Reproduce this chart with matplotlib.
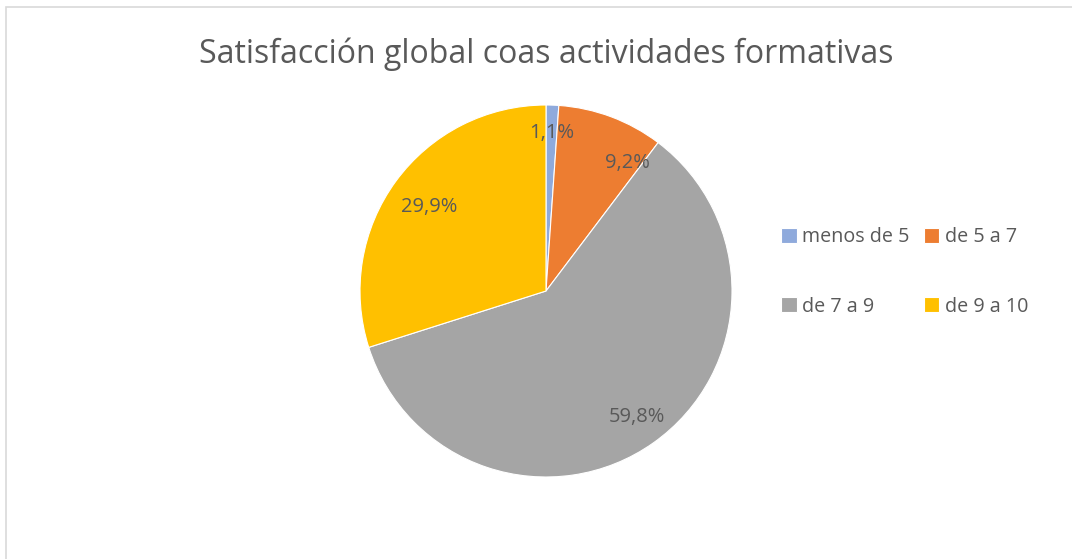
import matplotlib.pyplot as plt
from matplotlib.patches import Rectangle

categories = ['menos de 5', 'de 5 a 7', 'de 7 a 9', 'de 9 a 10']
values = [1.1, 9.2, 59.8, 29.9]
colors = ['#8FAADC', '#ED7D31', '#A5A5A5', '#FFC000']
title = 'Satisfacción global coas actividades formativas'

# where Excel put the data labels (in pie-radius units)
label_pos = [(0.03, 0.85), (0.44, 0.69), (0.49, -0.68), (-0.63, 0.45)]

plt.rcParams['font.family'] = ['Open Sans', 'DejaVu Sans']
TEXT_COLOR = '#595959'

fig = plt.figure(figsize=(10.72, 5.59), dpi=100)
fig.patches.append(Rectangle((6 / 1072, -0.1), 1.2, (559 - 7) / 559 + 0.1,
                             transform=fig.transFigure, fill=False,
                             edgecolor='#D9D9D9', linewidth=1.2))

ax = fig.add_axes([360 / 1072, 1 - 477 / 559, 372 / 1072, 372 / 559])
wedges, texts, autotexts = ax.pie(
    values, colors=colors, startangle=90, counterclock=False,
    autopct=lambda p: ('%.1f%%' % p).replace('.', ','),
    wedgeprops=dict(edgecolor='white', linewidth=0.8),
    textprops=dict(color=TEXT_COLOR, fontsize=14.5))
for t, pos in zip(autotexts, label_pos):
    t.set_position(pos)
ax.set_xlim(-1, 1)
ax.set_ylim(-1, 1)
ax.set_aspect('equal')

fig.text(546 / 1072, 1 - 54 / 559, title, ha='center', va='center',
         fontsize=23, color=TEXT_COLOR)

# Excel fills the legend row by row
order = [0, 2, 1, 3]
fig.legend([wedges[i] for i in order], [categories[i] for i in order],
           ncol=2, loc='center left',
           bbox_to_anchor=(763 / 1072, 1 - 272 / 559), frameon=False,
           fontsize=14.2, labelcolor=TEXT_COLOR, handlelength=0.8,
           handleheight=0.8, handletextpad=0.3, columnspacing=0.7,
           labelspacing=2.5)

fig.savefig('out.png', dpi=100)
